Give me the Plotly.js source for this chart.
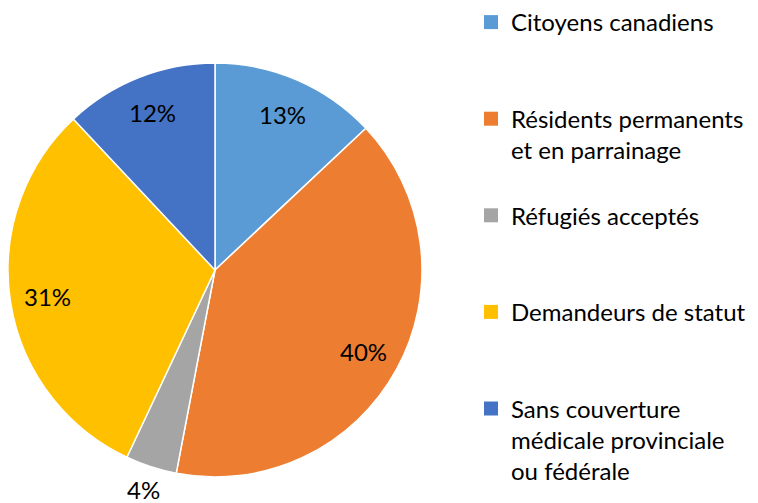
<!DOCTYPE html>
<html>
<head>
<meta charset="utf-8">
<script src="https://cdn.plot.ly/plotly-3.0.1.min.js"></script>
<style>html,body{margin:0;padding:0;background:#fff;}#chart{width:758px;height:503px;}</style>
</head>
<body>
<div id="chart"></div>
<script>
const categories = [
  "Citoyens canadiens<br> <br> ",
  "Résidents permanents<br>et en parrainage<br> ",
  "Réfugiés acceptés<br> <br> ",
  "Demandeurs de statut<br> <br> ",
  "Sans couverture<br>médicale provinciale<br>ou fédérale"
];
const values = [13, 40, 4, 31, 12];
const colors = ["#5B9BD5", "#ED7D31", "#A5A5A5", "#FFC000", "#4472C4"];
const labelOutside = [false, false, true, false, false];

const W = 758, H = 503;
const pieLeft = 8, pieRight = 422, pieTop = 63, pieBottom = 477;
const R = (pieRight - pieLeft) / 2;
const cxPx = (pieLeft + pieRight) / 2, cyPx = (pieTop + pieBottom) / 2;

const trace = {
  type: "pie",
  labels: categories,
  values: values,
  sort: false,
  direction: "clockwise",
  rotation: 0,
  marker: { colors: colors, line: { color: "#ffffff", width: 1.5 } },
  textinfo: "none",
  domain: { x: [pieLeft / W, pieRight / W], y: [1 - pieBottom / H, 1 - pieTop / H] },
  hoverinfo: "label+percent"
};

// Data labels placed at each slice's mid-angle (derived from the values)
const total = values.reduce((a, b) => a + b, 0);
let cum = 0;
const annotations = values.map((v, i) => {
  const mid = (cum + v / 2) / total * 2 * Math.PI;
  cum += v;
  const r = labelOutside[i] ? 1.115 * R : 0.82 * R;
  return {
    xref: "paper", yref: "paper",
    x: (cxPx + r * Math.sin(mid)) / W,
    y: 1 - (cyPx - r * Math.cos(mid)) / H,
    xanchor: "center", yanchor: "middle",
    text: Math.round(v / total * 100) + "%",
    showarrow: false,
    font: { family: "Lato", size: 24, color: "#000000" }
  };
});

const layout = {
  width: W, height: H,
  margin: { l: 0, r: 0, t: 0, b: 0 },
  paper_bgcolor: "#ffffff",
  showlegend: true,
  legend: {
    x: 471 / W, y: 1, xanchor: "left", yanchor: "top",
    valign: "top",
    font: { family: "Lato", size: 24, color: "#000000" },
    bgcolor: "rgba(0,0,0,0)",
    traceorder: "normal"
  },
  annotations: annotations,
  font: { family: "Lato" }
};

Plotly.newPlot("chart", [trace], layout, { displayModeBar: false, staticPlot: true }).then(gd => {
  gd.querySelectorAll(".legendpoints path").forEach(p => {
    p.setAttribute("d", "M7,7H-7V-7H7Z");
    p.style.strokeWidth = "0px";
  });
});
</script>
</body>
</html>
